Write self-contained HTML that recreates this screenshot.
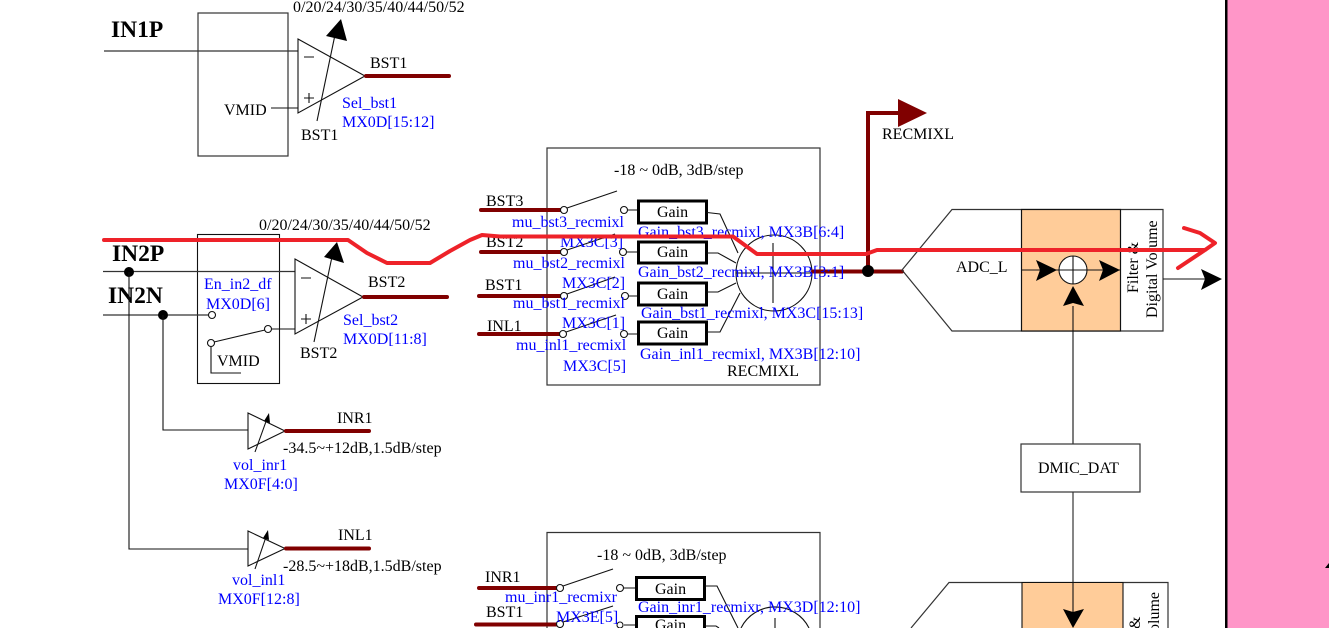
<!DOCTYPE html>
<html><head><meta charset="utf-8"><style>
html,body{margin:0;padding:0;background:#fff;width:1329px;height:628px;overflow:hidden}
svg{display:block}
text{font-family:"Liberation Serif",serif;font-size:16px;fill:#000}
.b{fill:#0000ff;font-size:16px}
.h{font-weight:bold;font-size:23.5px}
.l{fill:none;stroke:#111;stroke-width:1.1}
.g{fill:none;stroke:#333;stroke-width:1.2}
.r{fill:none;stroke:#800000;stroke-width:4;stroke-linecap:round}
.c{fill:#fff;stroke:#111;stroke-width:1.1}
.gb{fill:#fff;stroke:#000;stroke-width:3}
</style></head><body>
<svg width="1329" height="628" viewBox="0 0 1329 628" xmlns="http://www.w3.org/2000/svg">
<rect x="1227" y="0" width="102" height="628" fill="#ff96c8"/>
<rect x="1225" y="0" width="2.500" height="628" fill="#000"/>
<path d="M1325 568 L1329 563 V568Z" fill="#000"/>

<!-- IN1P -->
<text class="h" x="111" y="37">IN1P</text>
<rect class="g" x="198" y="13" width="90" height="143"/>
<path class="g" d="M104 51H298"/>
<path class="l" d="M271 108H298"/>
<path class="l" d="M298 39L365 76L298 113Z"/>
<path class="l" d="M304 57H314M304 98H314M309 93V103"/>
<path class="l" d="M317 121L336 30"/>
<path d="M341 19L326 36L347 41Z" fill="#000"/>
<path class="r" d="M366 76H449"/>
<text x="293" y="12">0/20/24/30/35/40/44/50/52</text>
<text x="224" y="115">VMID</text>
<text x="301" y="140">BST1</text>
<text x="370" y="68">BST1</text>
<text class="b" x="342" y="108">Sel_bst1</text>
<text class="b" x="342" y="127">MX0D[15:12]</text>

<!-- IN2 -->
<text class="h" x="112" y="261">IN2P</text>
<text class="h" x="108" y="303">IN2N</text>
<rect class="l" x="197.500" y="234.500" width="82" height="149"/>
<path class="g" d="M103 271.500H295"/>
<path class="g" d="M103 315H208"/>
<circle cx="129" cy="272" r="5" fill="#000"/>
<circle cx="163" cy="315" r="5" fill="#000"/>
<path class="l" d="M129 272V549H248"/>
<path class="l" d="M163 315V430H248"/>
<circle class="c" cx="212" cy="315" r="3.500"/>
<path class="l" d="M271 329H295M214 342L265 330M211 346V373H241"/>
<circle class="c" cx="268" cy="329" r="3.500"/>
<circle class="c" cx="211" cy="343" r="3.500"/>
<path class="l" d="M295 259L363 297L295 334Z"/>
<path class="l" d="M301 278H311M301 319H311M306 314V324"/>
<path class="l" d="M314 342L333 252"/>
<path d="M337 242L324 257L344 263Z" fill="#000"/>
<path class="r" d="M364 297H447"/>
<text x="259" y="230">0/20/24/30/35/40/44/50/52</text>
<text class="b" x="204" y="289">En_in2_df</text>
<text class="b" x="206" y="309">MX0D[6]</text>
<text x="217" y="366">VMID</text>
<text x="300" y="358">BST2</text>
<text x="368" y="287">BST2</text>
<text class="b" x="343" y="325">Sel_bst2</text>
<text class="b" x="343" y="344">MX0D[11:8]</text>

<!-- INR1 / INL1 -->
<path class="l" d="M248 413L285 431L248 449Z"/>
<path class="l" d="M255 452L268 416"/>
<path d="M269 413L264 421L270 423Z" fill="#000"/>
<path class="r" d="M286 431H369"/>
<text x="337" y="423">INR1</text>
<text x="283" y="453">-34.5~+12dB,1.5dB/step</text>
<text class="b" x="233" y="470">vol_inr1</text>
<text class="b" x="224" y="489">MX0F[4:0]</text>
<path class="l" d="M248 531L285 548.500L248 566Z"/>
<path class="l" d="M255 569L267 534"/>
<path d="M268 530L263 538L269 540Z" fill="#000"/>
<path class="r" d="M286 548.500H369"/>
<text x="338" y="540">INL1</text>
<text x="283" y="571">-28.5~+18dB,1.5dB/step</text>
<text class="b" x="232" y="585">vol_inl1</text>
<text class="b" x="218" y="604">MX0F[12:8]</text>

<!-- RECMIXL -->
<rect class="g" x="547" y="148" width="273" height="237"/>
<text x="614" y="175">-18 ~ 0dB, 3dB/step</text>
<text x="486" y="206">BST3</text>
<text x="486" y="247">BST2</text>
<text x="485" y="290">BST1</text>
<text x="487" y="331">INL1</text>
<path class="r" d="M481 210H562M481 252H562M479 296H562M479 334H561"/>
<path class="l" d="M567 208L617 191M567 250L615 234M567 294L615 277M566 332L616 315"/>
<circle class="c" cx="564" cy="210" r="3.500"/>
<circle class="c" cx="564" cy="252" r="3.500"/>
<circle class="c" cx="564" cy="296" r="3.500"/>
<circle class="c" cx="563" cy="334" r="3.500"/>
<path class="l" d="M628 210H638M627 252H638M629 296H638M628 334H638"/>
<circle class="c" cx="624" cy="210" r="3.500"/>
<circle class="c" cx="623" cy="252" r="3.500"/>
<circle class="c" cx="625" cy="296" r="3.500"/>
<circle class="c" cx="624" cy="334" r="3.500"/>
<rect class="gb" x="638.500" y="201" width="68" height="22"/>
<rect class="gb" x="638.500" y="242" width="68" height="21"/>
<rect class="gb" x="638.500" y="283" width="68" height="22"/>
<rect class="gb" x="638.500" y="322" width="68" height="22"/>
<text x="657" y="217">Gain</text>
<text x="657" y="257">Gain</text>
<text x="657" y="299">Gain</text>
<text x="657" y="338">Gain</text>
<path class="l" d="M707 212.500L720 214L738 253M707 253H718L736 263M707 292H718L736 283M707 332H720L740 293"/>
<circle class="l" cx="774" cy="273" r="38"/>
<path class="l" d="M773 243V303M736 273H812"/>
<path class="r" d="M813 271.500H902" stroke-linecap="butt"/>
<text class="b" x="512" y="227">mu_bst3_recmixl</text>
<text class="b" x="560" y="247">MX3C[3]</text>
<text class="b" x="513" y="268">mu_bst2_recmixl</text>
<text class="b" x="562" y="288">MX3C[2]</text>
<text class="b" x="513" y="308">mu_bst1_recmixl</text>
<text class="b" x="562" y="328">MX3C[1]</text>
<text class="b" x="516" y="350">mu_inl1_recmixl</text>
<text class="b" x="563" y="371">MX3C[5]</text>
<text class="b" x="638" y="237">Gain_bst3_recmixl, MX3B[6:4]</text>
<text class="b" x="638" y="277">Gain_bst2_recmixl, MX3B[3:1]</text>
<text class="b" x="641" y="318">Gain_bst1_recmixl, MX3C[15:13]</text>
<text class="b" x="640" y="359">Gain_inl1_recmixl, MX3B[12:10]</text>
<text x="727" y="376">RECMIXL</text>

<path d="M868 271V113H900" fill="none" stroke="#800000" stroke-width="4"/>
<path d="M898 99L927 113L898 127Z" fill="#800000"/>
<circle cx="868" cy="271" r="6" fill="#000"/>
<text x="882" y="139">RECMIXL</text>

<!-- ADC L -->
<path class="g" d="M902 270L952 209.500H1163V331H952Z" fill="#fff"/>
<rect x="1021.500" y="209.500" width="99" height="121.500" fill="#ffcc99" stroke="#111" stroke-width="1.200"/>
<path class="l" d="M1021 270H1059M1087 270H1120M1073 306V444M1163 279H1205"/>
<circle class="c" cx="1073" cy="270" r="14"/>
<path class="l" d="M1059 270H1087M1073 256V284"/>
<path d="M1036 260L1057 270L1036 281L1040 270Z" fill="#000"/>
<path d="M1099 260L1120 270L1099 281L1103 270Z" fill="#000"/>
<path d="M1073 286L1063 306L1073 303L1084 306Z" fill="#000"/>
<path d="M1201 269L1222 279L1201 290L1205 279Z" fill="#000"/>
<text x="956" y="272">ADC_L</text>
<text transform="translate(1138 293) rotate(-90)">Filter &amp;</text>
<text transform="translate(1157 318) rotate(-90)">Digital Volume</text>

<!-- DMIC -->
<rect class="g" x="1021" y="444" width="119" height="48" fill="#fff"/>
<text x="1038" y="473">DMIC_DAT</text>
<path class="g" d="M1073 492V582"/>

<!-- Lower ADC -->
<path class="g" d="M911 628L949 582.500H1168V628"/>
<rect x="1022" y="582" width="101" height="46" fill="#ffcc99"/>
<path class="l" d="M1022 628V582.500H1123V628M1073 582V612"/>
<path d="M1063 609L1073 612L1084 609L1073 628Z" fill="#000"/>
<text transform="translate(1140 629) rotate(-90)">&amp;</text>
<text transform="translate(1159 632) rotate(-90)">olume</text>

<!-- Lower mixer -->
<path class="g" d="M547 628V532.500H820V628"/>
<text x="597" y="560">-18 ~ 0dB, 3dB/step</text>
<text x="485" y="582">INR1</text>
<text x="486" y="617">BST1</text>
<path class="r" d="M479 588H558M476 624.500H558"/>
<path class="l" d="M563 586L613 569M563 622L613 606"/>
<circle class="c" cx="560" cy="588" r="3.500"/>
<circle class="c" cx="560" cy="624" r="3.500"/>
<path class="l" d="M624 588H636M624 625H636"/>
<circle class="c" cx="620" cy="588" r="3.500"/>
<circle class="c" cx="620" cy="625" r="3"/>
<path class="gb" d="M636.500 577.500H704.500V599.500H636.500Z"/>
<path class="gb" style="fill:none" d="M636.500 628V616.500H704.500V628"/>
<text x="655" y="594">Gain</text>
<text x="655" y="630">Gain</text>
<path class="l" d="M705 586H717L738 628M705 626H716L719 628"/>
<path class="l" d="M741 628A38 38 0 0 1 809 628M775 618V628"/>
<text class="b" x="505" y="602">mu_inr1_recmixr</text>
<text class="b" x="556" y="622">MX3E[5]</text>
<text class="b" x="638" y="612">Gain_inr1_recmixr, MX3D[12:10]</text>

<!-- red annotation -->
<path d="M104 240H348L367 253L387 263H430L450 251L470 240L482 235L500 236.500H733L757 254H866L877 250H1205M1184 228L1200 233L1215 243L1205 250L1178 268" fill="none" stroke="#ee2229" stroke-width="4" stroke-linecap="round" stroke-linejoin="round"/>
</svg>
</body></html>
